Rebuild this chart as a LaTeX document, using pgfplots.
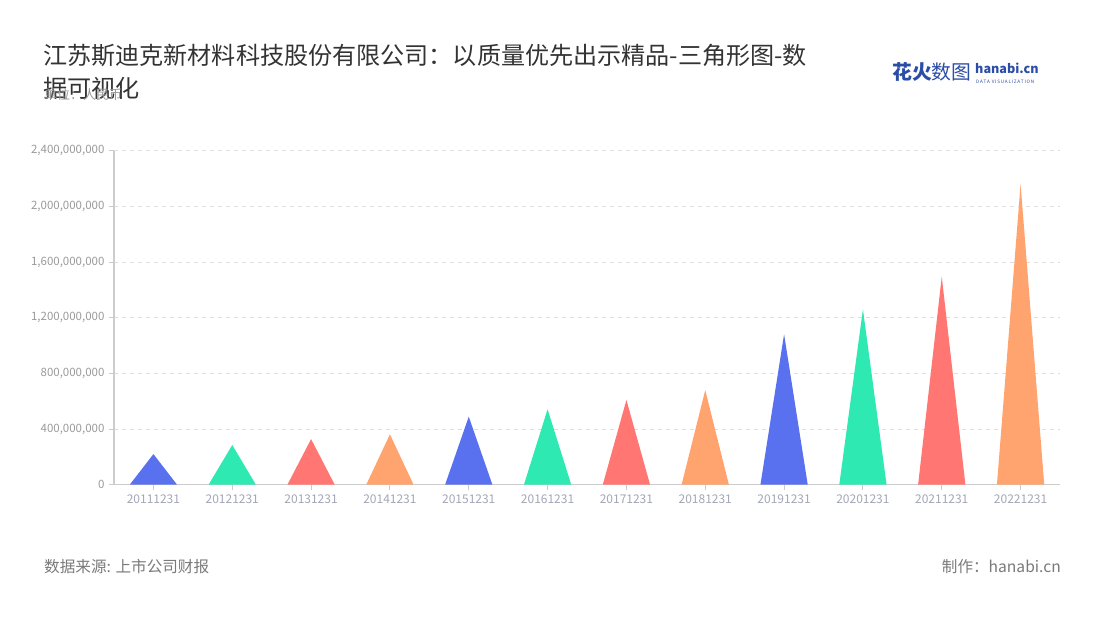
\documentclass[border=0pt]{standalone}
\usepackage{fontspec}
\setmainfont{Noto Sans CJK SC}
\usepackage{pgfplots}
\pgfplotsset{compat=1.18}
\definecolor{cblue}{HTML}{5971EE}
\definecolor{cgreen}{HTML}{2EE9B2}
\definecolor{cred}{HTML}{FF7672}
\definecolor{corange}{HTML}{FFA36F}
\definecolor{ticklab}{HTML}{A3A7B7}
\definecolor{ylab}{HTML}{9A9A9A}
\definecolor{axisgray}{HTML}{CCCCCC}
\definecolor{gridgray}{HTML}{DEDEDE}
\definecolor{logoblue}{HTML}{2B4DA6}
\definecolor{titlec}{HTML}{333333}
\definecolor{footc}{HTML}{7A7A7A}
\begin{document}
\begin{tikzpicture}
\path[fill=white] (0pt,0pt) rectangle (1100pt,620pt);
% title
\node[anchor=west, inner sep=0pt, text=titlec, font=\fontsize{24.1}{28}\selectfont] at (43pt,565pt) {江苏斯迪克新材料科技股份有限公司：以质量优先出示精品-三角形图-数};
\node[anchor=west, inner sep=0pt, text=titlec, font=\fontsize{24.1}{28}\selectfont] at (43pt,532pt) {据可视化};
\node[anchor=west, inner sep=0pt, text=ylab, font=\fontsize{13}{15}\selectfont] at (44pt,525pt) {单位：人民币};
% logo
\node[anchor=west, inner sep=0pt, text=logoblue, font=\fontsize{19.8}{21}\selectfont\bfseries] at (892pt,548pt) {花火\mdseries 数图};
\node[anchor=west, inner sep=0pt, text=logoblue, font=\fontsize{12.6}{14}\selectfont\bfseries] at (975pt,552pt) {hanabi.cn};
\node[anchor=west, inner sep=0pt, text=logoblue, font=\fontsize{4.6}{5}\selectfont] at (976pt,538pt) {D\,A\,T\,A\, V\,I\,S\,U\,A\,L\,I\,Z\,A\,T\,I\,O\,N};
% footer
\node[anchor=west, inner sep=0pt, text=footc, font=\fontsize{15.6}{17}\selectfont] at (44pt,53pt) {数据来源: 上市公司财报};
\node[anchor=east, inner sep=0pt, text=footc, font=\fontsize{15.6}{17}\selectfont] at (1061pt,53pt) {制作：hanabi.cn};
\begin{axis}[
  at={(114pt,135.3pt)}, anchor=south west,
  scale only axis, width=946pt, height=334pt,
  xmin=-0.5, xmax=11.5, ymin=0, ymax=2400000000,
  axis lines=left, axis line style={axisgray, line width=1.3pt, -},
  xtick={0,...,11},
  xticklabels={20111231,20121231,20131231,20141231,20151231,20161231,20171231,20181231,20191231,20201231,20211231,20221231},
  ytick={0,400000000,800000000,1200000000,1600000000,2000000000,2400000000},
  yticklabels={0,{400,000,000},{800,000,000},{1,200,000,000},{1,600,000,000},{2,000,000,000},{2,400,000,000}},
  scaled y ticks=false,
  tick style={axisgray, line width=1pt},
  major tick length=5pt,
  tick align=outside,
  xticklabel style={text=ticklab, font=\fontsize{12}{14}\selectfont, yshift=-2pt},
  yticklabel style={text=ylab, font=\fontsize{11.5}{13}\selectfont, xshift=-1pt},
  ymajorgrids, grid style={gridgray, dash pattern=on 4pt off 4pt, line width=0.9pt},
  clip=false,
]
\addplot[fill=cblue, draw=none] coordinates {(-0.3,0) (0,220000000) (0.3,0)} -- cycle;
\addplot[fill=cgreen, draw=none] coordinates {(0.7,0) (1,285000000) (1.3,0)} -- cycle;
\addplot[fill=cred, draw=none] coordinates {(1.7,0) (2,328000000) (2.3,0)} -- cycle;
\addplot[fill=corange, draw=none] coordinates {(2.7,0) (3,362000000) (3.3,0)} -- cycle;
\addplot[fill=cblue, draw=none] coordinates {(3.7,0) (4,489000000) (4.3,0)} -- cycle;
\addplot[fill=cgreen, draw=none] coordinates {(4.7,0) (5,542000000) (5.3,0)} -- cycle;
\addplot[fill=cred, draw=none] coordinates {(5.7,0) (6,609000000) (6.3,0)} -- cycle;
\addplot[fill=corange, draw=none] coordinates {(6.7,0) (7,680000000) (7.3,0)} -- cycle;
\addplot[fill=cblue, draw=none] coordinates {(7.7,0) (8,1081000000) (8.3,0)} -- cycle;
\addplot[fill=cgreen, draw=none] coordinates {(8.7,0) (9,1260000000) (9.3,0)} -- cycle;
\addplot[fill=cred, draw=none] coordinates {(9.7,0) (10,1495000000) (10.3,0)} -- cycle;
\addplot[fill=corange, draw=none] coordinates {(10.7,0) (11,2161000000) (11.3,0)} -- cycle;
\end{axis}
\end{tikzpicture}
\end{document}
